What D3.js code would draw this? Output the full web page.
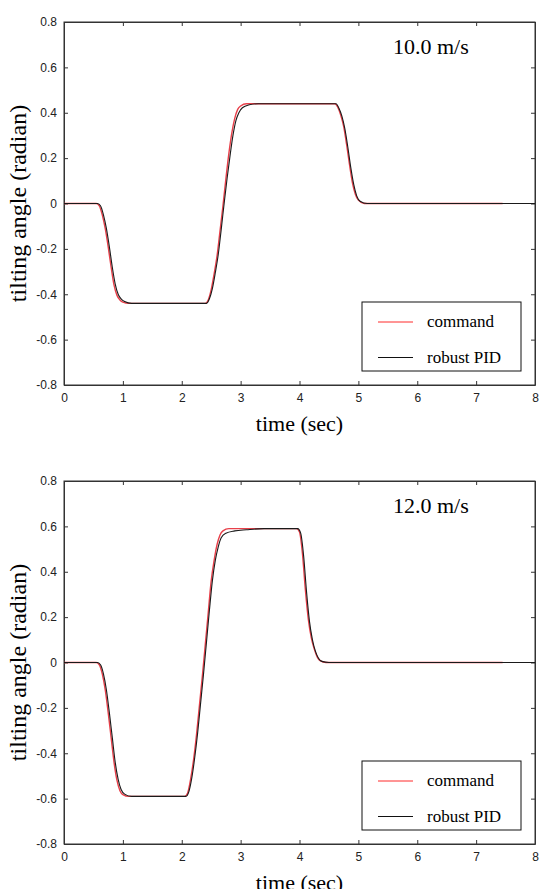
<!DOCTYPE html>
<html><head><meta charset="utf-8">
<script src="https://cdn.jsdelivr.net/npm/d3@7/dist/d3.min.js"></script>
<style>
html,body{margin:0;padding:0;background:#fff;}
svg{display:block;}
.tick text{font-family:"Liberation Sans Narrow","Arial Narrow","Liberation Sans",sans-serif;font-size:12px;fill:#222;}
</style></head>
<body><svg id="chart" width="549" height="889"></svg>
<script>
// ---- data ----
const timeTicks = [0,1,2,3,4,5,6,7,8];
const angleTicks = [-0.8,-0.6,-0.4,-0.2,0,0.2,0.4,0.6,0.8];
const speedLabels = ["10.0 m/s","12.0 m/s"];
const seriesNames = ["command","robust PID"];

const command10 = [[0,0],[0.55,0],[0.6,-0.01],[0.65,-0.05],[0.7,-0.11],[0.75,-0.19],[0.8,-0.28],[0.85,-0.36],[0.9,-0.405],[0.95,-0.425],[1.0,-0.435],[1.1,-0.44],
 [2.4,-0.44],[2.45,-0.425],[2.5,-0.38],[2.55,-0.31],[2.6,-0.23],[2.65,-0.12],[2.7,-0.01],[2.75,0.11],[2.8,0.22],[2.85,0.31],[2.9,0.375],[2.95,0.415],[3.0,0.43],[3.1,0.44],
 [4.6,0.44],[4.65,0.425],[4.7,0.39],[4.75,0.34],[4.8,0.26],[4.85,0.17],[4.9,0.09],[4.95,0.04],[5.0,0.015],[5.1,0],[7.45,0]];
const pid10 = [[0,0],[0.57,0],[0.62,-0.01],[0.67,-0.05],[0.72,-0.11],[0.77,-0.19],[0.82,-0.28],[0.87,-0.355],[0.92,-0.40],[0.97,-0.42],[1.03,-0.432],[1.15,-0.44],
 [2.42,-0.44],[2.47,-0.42],[2.52,-0.375],[2.57,-0.305],[2.62,-0.225],[2.67,-0.115],[2.72,0.0],[2.77,0.11],[2.82,0.21],[2.87,0.30],[2.92,0.365],[2.97,0.40],[3.03,0.422],[3.15,0.435],[3.3,0.44],
 [4.62,0.44],[4.67,0.42],[4.72,0.385],[4.77,0.33],[4.82,0.25],[4.87,0.16],[4.92,0.085],[4.97,0.035],[5.03,0.01],[5.15,0],[8,0]];

const command12 = [[0,0],[0.55,0],[0.6,-0.01],[0.65,-0.05],[0.7,-0.12],[0.75,-0.22],[0.8,-0.33],[0.85,-0.44],[0.9,-0.52],[0.95,-0.565],[1.0,-0.582],[1.1,-0.59],
 [2.05,-0.59],[2.1,-0.575],[2.15,-0.515],[2.2,-0.43],[2.25,-0.32],[2.3,-0.19],[2.35,-0.06],[2.4,0.08],[2.45,0.22],[2.5,0.36],[2.55,0.45],[2.6,0.52],[2.65,0.562],[2.7,0.58],[2.8,0.59],
 [3.95,0.59],[4.0,0.575],[4.05,0.48],[4.1,0.32],[4.15,0.19],[4.2,0.11],[4.25,0.06],[4.3,0.025],[4.35,0.008],[4.45,0],[7.45,0]];
const pid12 = [[0,0],[0.57,0],[0.62,-0.01],[0.67,-0.05],[0.72,-0.12],[0.77,-0.22],[0.82,-0.33],[0.87,-0.44],[0.92,-0.515],[0.97,-0.56],[1.03,-0.58],[1.15,-0.59],
 [2.07,-0.59],[2.12,-0.57],[2.17,-0.51],[2.22,-0.42],[2.27,-0.31],[2.32,-0.18],[2.37,-0.05],[2.42,0.09],[2.47,0.23],[2.52,0.36],[2.57,0.45],[2.62,0.51],[2.67,0.55],[2.75,0.57],[2.9,0.58],[3.1,0.585],[3.4,0.59],
 [3.97,0.59],[4.02,0.57],[4.07,0.47],[4.12,0.31],[4.17,0.18],[4.22,0.10],[4.27,0.05],[4.32,0.02],[4.38,0.005],[4.5,0],[8,0]];

const panels = [
  {top:22, label:speedLabels[0], command:command10, pid:pid10},
  {top:481, label:speedLabels[1], command:command12, pid:pid12}
];

// ---- layout ----
const svg = d3.select("#chart");
const left = 64, right = 535, plotH = 363;
const x = d3.scaleLinear().domain([0,8]).range([left,right]);
const fmt = d => d===0 ? "0" : d.toFixed(1);

panels.forEach(p => {
  const y = d3.scaleLinear().domain([-0.8,0.8]).range([p.top+plotH, p.top]);
  const g = svg.append("g");

  g.append("rect").attr("x",left).attr("y",p.top).attr("width",right-left).attr("height",plotH)
    .attr("fill","none").attr("stroke","#333").attr("stroke-width",1);

  const xb = g.append("g").attr("transform",`translate(0,${p.top+plotH})`)
    .call(d3.axisBottom(x).tickValues(timeTicks).tickFormat(d3.format("d")).tickSizeInner(-4).tickSizeOuter(0).tickPadding(8));
  const xt = g.append("g").attr("transform",`translate(0,${p.top})`)
    .call(d3.axisTop(x).tickValues(timeTicks).tickFormat("").tickSizeInner(-4).tickSizeOuter(0));
  const yl = g.append("g").attr("transform",`translate(${left},0)`)
    .call(d3.axisLeft(y).tickValues(angleTicks).tickFormat(fmt).tickSizeInner(-4).tickSizeOuter(0).tickPadding(7));
  const yr = g.append("g").attr("transform",`translate(${right},0)`)
    .call(d3.axisRight(y).tickValues(angleTicks).tickFormat("").tickSizeInner(-4).tickSizeOuter(0));
  [xb,xt,yl,yr].forEach(a => { a.select(".domain").attr("stroke","#333"); a.selectAll(".tick line").attr("stroke","#333"); });

  const line = d3.line().x(d => x(d[0])).y(d => y(d[1])).curve(d3.curveMonotoneX);
  g.append("path").datum(p.command).attr("d",line).attr("fill","none").attr("stroke","#e8404a").attr("stroke-width",1.4);
  g.append("path").datum(p.pid).attr("d",line).attr("fill","none").attr("stroke","#1a1a1a").attr("stroke-width",1.1);

  g.append("text").attr("x",393).attr("y",p.top+32).text(p.label)
    .attr("font-family","Liberation Serif, Times New Roman, serif").attr("font-size",22).attr("fill","#000");

  const lg = g.append("g").attr("transform",`translate(362,${p.top+280})`);
  lg.append("rect").attr("width",159).attr("height",69).attr("fill","#fff").attr("stroke","#111").attr("stroke-width",1);
  const colors = ["#ff2a2a","#111"];
  seriesNames.forEach((n,i) => {
    const yy = 20 + i*35.5;
    lg.append("line").attr("x1",16).attr("x2",51).attr("y1",yy).attr("y2",yy).attr("stroke",colors[i]).attr("stroke-width",1);
    lg.append("text").attr("x",65).attr("y",yy+5).text(n)
      .attr("font-family","Liberation Serif, Times New Roman, serif").attr("font-size",17).attr("fill","#000");
  });

  g.append("text").attr("x",(left+right)/2).attr("y",p.top+plotH+46).attr("text-anchor","middle").text("time (sec)")
    .attr("font-family","Liberation Serif, Times New Roman, serif").attr("font-size",22).attr("fill","#000");
  g.append("text").attr("transform",`translate(26,${p.top+plotH/2}) rotate(-90)`).attr("text-anchor","middle")
    .text("tilting angle (radian)")
    .attr("font-family","Liberation Serif, Times New Roman, serif").attr("font-size",24).attr("fill","#000");
});
</script></body></html>
